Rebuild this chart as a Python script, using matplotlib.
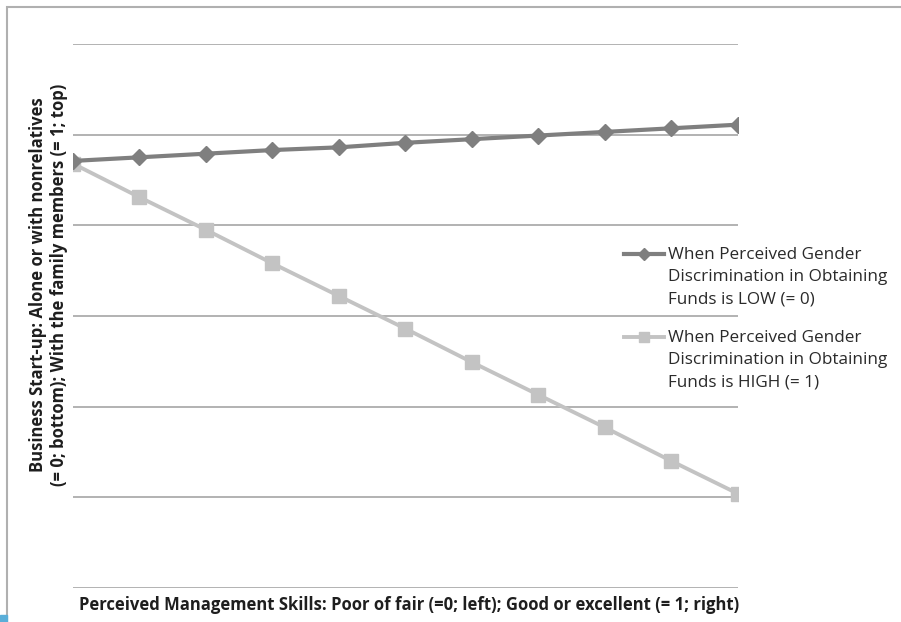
"""line chart of predicted business start-up by management skills"""

import matplotlib.pyplot as plt
from matplotlib.legend_handler import HandlerLine2D
from matplotlib.patches import Rectangle

x_points = list(range(11))
low_discrimination = [0.471, 0.475, 0.479, 0.483, 0.486, 0.491,
                      0.495, 0.499, 0.503, 0.507, 0.511]
high_discrimination = [0.468, 0.431, 0.395, 0.358, 0.322, 0.286,
                       0.249, 0.213, 0.177, 0.140, 0.104]
grid_levels = [0.0, 0.1, 0.2, 0.3, 0.4, 0.5, 0.6]

low_label = ('When Perceived Gender\nDiscrimination in Obtaining\n'
             'Funds is LOW (= 0)')
high_label = ('When Perceived Gender\nDiscrimination in Obtaining\n'
              'Funds is HIGH (= 1)')
x_title = ('Perceived Management Skills: Poor of fair (=0; left); '
           'Good or excellent (= 1; right)')
y_title = ('Business Start-up: Alone or with nonrelatives\n'
           '(= 0; bottom); With the family members (= 1; top)')

LEGEND_SIZE = 12.3
LEGEND_SPACING = 1.5
LINE_STEP_PT = 23 * 72 / 100  # one label line, in points


class FirstLineHandler(HandlerLine2D):
    """puts the legend key next to the first line of a multi-line label"""

    def create_artists(self, legend, orig_handle, xdescent, ydescent,
                       width, height, fontsize, trans):
        return super().create_artists(legend, orig_handle, xdescent,
                                      ydescent - 2 * LINE_STEP_PT, width,
                                      height, fontsize, trans)


plt.rcParams['font.family'] = ['Open Sans', 'DejaVu Sans']

fig = plt.figure(figsize=(9.01, 6.22), dpi=100)
ax = fig.add_axes([0.081, 0.0547, 0.738, 0.8746])

ax.plot(x_points, low_discrimination, color='#7f7f7f', lw=3.0,
        marker='D', markersize=8, label=low_label, zorder=3)
ax.plot(x_points, high_discrimination, color='#c3c3c3', lw=2.8,
        marker='s', markersize=10.5, label=high_label, zorder=2)

ax.set_xlim(0, 10)
ax.set_ylim(0, 0.6)
ax.set_yticks(grid_levels)
ax.set_xticks([])
ax.tick_params(axis='y', length=0, labelleft=False)
ax.grid(axis='y', color='#a6a6a6', lw=1.2)
for side in ['top', 'right', 'left', 'bottom']:
    ax.spines[side].set_visible(False)

fig.text(0.454, 0.027, x_title, ha='center', va='center', fontsize=12,
         fontweight='bold', color='#1e1e1e')
fig.text(0.0542, 0.542, y_title, ha='center', va='center', rotation=90,
         fontsize=12, fontweight='bold', color='#1e1e1e',
         multialignment='center')

leg = ax.legend(loc='upper left', bbox_to_anchor=(0.6925, 0.6024),
                bbox_transform=fig.transFigure, frameon=False,
                fontsize=LEGEND_SIZE, borderpad=0, borderaxespad=0,
                handlelength=2.34, handletextpad=0.23, labelspacing=1.34,
                markerscale=0.75, labelcolor='#2a2a2a',
                handler_map={plt.Line2D: FirstLineHandler()})
for text in leg.get_texts():
    text.set_linespacing(LEGEND_SPACING)

# outer chart frame and the small corner mark
fig.patches.append(Rectangle((0.0078, -0.1), 1.2, 1.089, fill=False,
                             edgecolor='#b0b0b0', lw=1.5,
                             transform=fig.transFigure, figure=fig))
fig.patches.append(Rectangle((0, 0), 0.0078, 0.011, color='#5aaed8',
                             transform=fig.transFigure, figure=fig))

fig.savefig('out.png', dpi=100)
